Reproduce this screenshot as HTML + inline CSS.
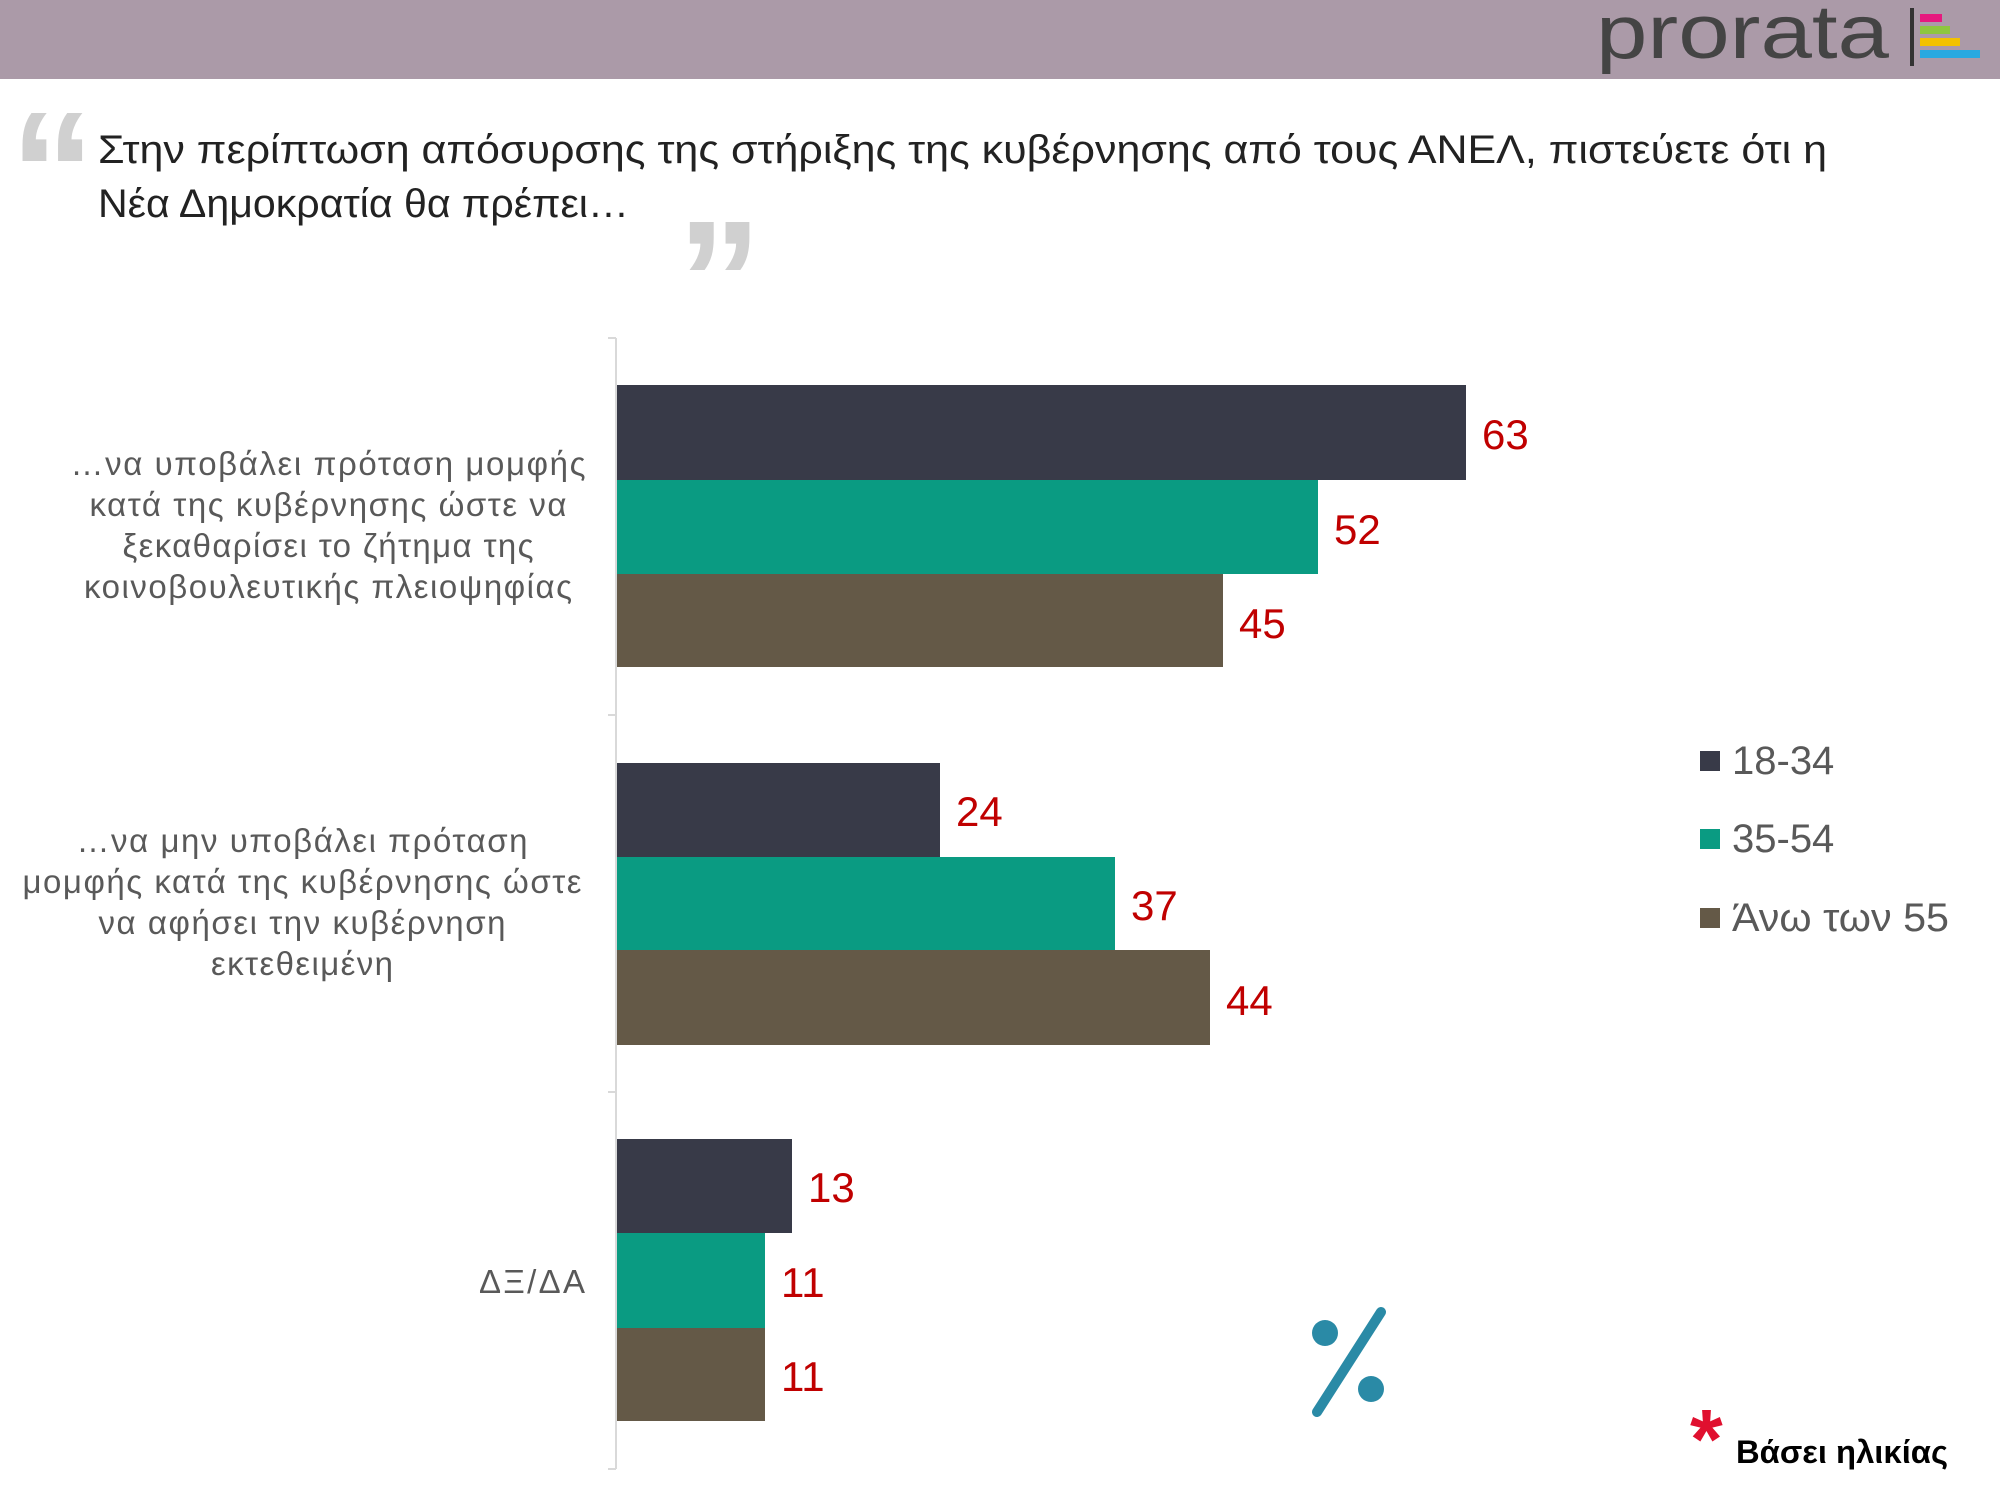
<!DOCTYPE html>
<html><head><meta charset="utf-8"><style>
html,body{margin:0;padding:0;background:#fff}
svg{display:block}
text{font-family:"Liberation Sans","DejaVu Sans",sans-serif}
</style></head><body>
<svg width="2000" height="1500" viewBox="0 0 2000 1500" xmlns="http://www.w3.org/2000/svg">
<rect x="0" y="0" width="2000" height="79" fill="#ab9aa8"/>
<text x="1596" y="58" font-size="76" fill="#444" textLength="293" lengthAdjust="spacingAndGlyphs">prorata</text>
<rect x="1910" y="8" width="4" height="58" fill="#333"/>
<rect x="1920" y="14" width="22" height="8" fill="#e6197e"/>
<rect x="1920" y="26" width="30" height="8" fill="#8dc63f"/>
<rect x="1920" y="38" width="40" height="8" fill="#f2c200"/>
<rect x="1920" y="50" width="60" height="8" fill="#29a9e0"/>
<text x="10" y="230" font-size="170" fill="#d0d0d0" font-family="Liberation Serif,serif" font-weight="bold">“</text>
<text x="677" y="339" font-size="170" fill="#d0d0d0" font-family="Liberation Serif,serif" font-weight="bold">”</text>
<text x="98" y="163" font-size="40" fill="#222" textLength="1729" lengthAdjust="spacingAndGlyphs">Στην περίπτωση απόσυρσης της στήριξης της κυβέρνησης από τους ΑΝΕΛ, πιστεύετε ότι η</text>
<text x="98" y="217" font-size="40" fill="#222" textLength="531" lengthAdjust="spacingAndGlyphs">Νέα Δημοκρατία θα πρέπει…</text>
<g stroke="#d9d9d9" stroke-width="2">
<line x1="616" y1="338" x2="616" y2="1469"/>
<line x1="608" y1="338" x2="616" y2="338"/>
<line x1="608" y1="715" x2="616" y2="715"/>
<line x1="608" y1="1092" x2="616" y2="1092"/>
<line x1="608" y1="1469" x2="616" y2="1469"/>
</g>
<g>
<rect x="617" y="385" width="849" height="95" fill="#383a48"/>
<rect x="617" y="480" width="701" height="94" fill="#0a9b82"/>
<rect x="617" y="574" width="606" height="93" fill="#645947"/>
<rect x="617" y="763" width="323" height="94" fill="#383a48"/>
<rect x="617" y="857" width="498" height="93" fill="#0a9b82"/>
<rect x="617" y="950" width="593" height="95" fill="#645947"/>
<rect x="617" y="1139" width="175" height="94" fill="#383a48"/>
<rect x="617" y="1233" width="148" height="95" fill="#0a9b82"/>
<rect x="617" y="1328" width="148" height="93" fill="#645947"/>
</g>
<g font-size="42" fill="#c00000">
<text x="1482" y="449">63</text>
<text x="1334" y="544">52</text>
<text x="1239" y="638">45</text>
<text x="956" y="826">24</text>
<text x="1131" y="920">37</text>
<text x="1226" y="1015">44</text>
<text x="808" y="1202">13</text>
<text x="781" y="1297">11</text>
<text x="781" y="1391">11</text>
</g>
<g font-size="33" fill="#595959" text-anchor="middle" lengthAdjust="spacingAndGlyphs">
<text x="328" y="475" textLength="515">…να υποβάλει πρόταση μομφής</text>
<text x="328" y="516" textLength="477">κατά της κυβέρνησης ώστε να</text>
<text x="328" y="557" textLength="411">ξεκαθαρίσει το ζήτημα της</text>
<text x="328" y="598" textLength="488">κοινοβουλευτικής πλειοψηφίας</text>
<text x="302" y="852" textLength="451">…να μην υποβάλει πρόταση</text>
<text x="302" y="893" textLength="559">μομφής κατά της κυβέρνησης ώστε</text>
<text x="302" y="934" textLength="407">να αφήσει την κυβέρνηση</text>
<text x="302" y="975" textLength="182">εκτεθειμένη</text>
<text x="532" y="1293" textLength="106">ΔΞ/ΔΑ</text>
</g>
<g font-size="40" fill="#595959">
<rect x="1700" y="751" width="20" height="20" fill="#383a48"/>
<text x="1732" y="774">18-34</text>
<rect x="1700" y="829" width="20" height="20" fill="#0a9b82"/>
<text x="1732" y="852">35-54</text>
<rect x="1700" y="908" width="20" height="20" fill="#645947"/>
<text x="1732" y="931" textLength="217" lengthAdjust="spacingAndGlyphs">Άνω των 55</text>
</g>
<g fill="#2a8aa6">
<circle cx="1325" cy="1333" r="13"/>
<circle cx="1371" cy="1389" r="13"/>
<line x1="1381" y1="1312" x2="1317" y2="1412" stroke="#2a8aa6" stroke-width="10" stroke-linecap="round"/>
</g>
<text x="1690" y="1468" font-size="84" fill="#e0102f" font-weight="bold">*</text>
<text x="1736" y="1463" font-size="32" fill="#000" font-weight="bold" textLength="212" lengthAdjust="spacingAndGlyphs">Βάσει ηλικίας</text>
</svg>
</body></html>
